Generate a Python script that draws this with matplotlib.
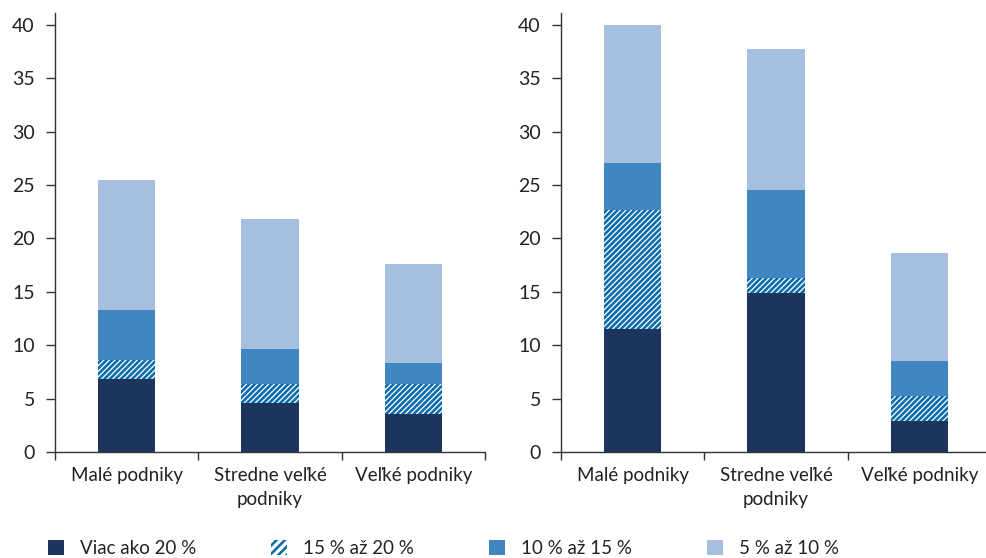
import matplotlib
matplotlib.use("Agg")
import matplotlib.pyplot as plt
import numpy as np
from matplotlib.patches import Patch

plt.rcParams['font.family'] = ['Lato', 'DejaVu Sans']
plt.rcParams['hatch.linewidth'] = 1.9

categories = ["Malé podniky", "Stredne veľké\npodniky", "Veľké podniky"]
series_names = ["Viac ako 20 %", "15 % až 20 %", "10 % až 15 %", "5 % až 10 %"]

# left panel segments
left_over20 = [6.86, 4.58, 3.55]
left_15_20 = [1.74, 1.75, 2.81]
left_10_15 = [4.70, 3.33, 1.93]
left_5_10 = [12.20, 12.14, 9.31]

# right panel segments
right_over20 = [11.47, 14.88, 2.94]
right_15_20 = [11.19, 1.40, 2.31]
right_10_15 = [4.44, 8.22, 3.31]
right_5_10 = [12.90, 13.20, 10.10]

yticks = [0, 5, 10, 15, 20, 25, 30, 35, 40]

c_dark = "#1d355c"
c_hatch = "#0b6cab"
c_blue = "#4086c0"
c_light = "#a6bfdf"
txt = "#222222"
HATCH = "//////"

W, H = 986, 558
fig = plt.figure(figsize=(W / 100, H / 100), dpi=100)

def make_ax(x0, x1):
    return fig.add_axes([x0 / W, (H - 452) / H, (x1 - x0) / W, (452 - 13) / H])

axL = make_ax(55, 485)
axR = make_ax(561, 991)

def draw(ax, s1, s2, s3, s4):
    x = np.arange(len(categories))
    w = 0.4
    b = np.zeros(len(categories))
    ax.bar(x, s1, w, bottom=b, color=c_dark, linewidth=0)
    b = b + np.array(s1)
    ax.bar(x, s2, w, bottom=b, facecolor="white", edgecolor=c_hatch, hatch=HATCH, linewidth=0)
    b = b + np.array(s2)
    ax.bar(x, s3, w, bottom=b, color=c_blue, linewidth=0)
    b = b + np.array(s3)
    ax.bar(x, s4, w, bottom=b, color=c_light, linewidth=0)
    ax.set_xlim(-0.5, 2.5)
    ax.set_ylim(0, 41.1)
    ax.set_yticks(yticks)
    ax.set_yticklabels([str(v) for v in yticks], fontsize=14, color=txt)
    ax.set_xticks(x)
    ax.set_xticklabels(categories, fontsize=13.5, color=txt, linespacing=1.5)
    ax.set_xticks([-0.5, 0.5, 1.5, 2.5], minor=True)
    ax.tick_params(axis='x', which='major', length=0, pad=11)
    ax.tick_params(axis='x', which='minor', length=6, width=1, color="#333333", direction='out')
    ax.tick_params(axis='y', length=6.5, width=1, color="#333333", pad=8)
    for s in ['top', 'right']:
        ax.spines[s].set_visible(False)
    for s in ['left', 'bottom']:
        ax.spines[s].set_color("#333333")
        ax.spines[s].set_linewidth(1)

draw(axL, left_over20, left_15_20, left_10_15, left_5_10)
draw(axR, right_over20, right_15_20, right_10_15, right_5_10)

handles = [
    Patch(facecolor=c_dark, linewidth=0),
    Patch(facecolor="white", edgecolor=c_hatch, hatch="////", linewidth=0),
    Patch(facecolor=c_blue, linewidth=0),
    Patch(facecolor=c_light, linewidth=0),
]
fs = 13.5
fig.legend(handles, series_names, loc="lower left", bbox_to_anchor=(48 / W, 1 / H),
           ncol=4, frameon=False, fontsize=fs, handlelength=0.85, handleheight=0.85,
           handletextpad=0.85, columnspacing=4.0, labelcolor=txt,
           borderpad=0, borderaxespad=0)

fig.savefig("out.png", dpi=100)
